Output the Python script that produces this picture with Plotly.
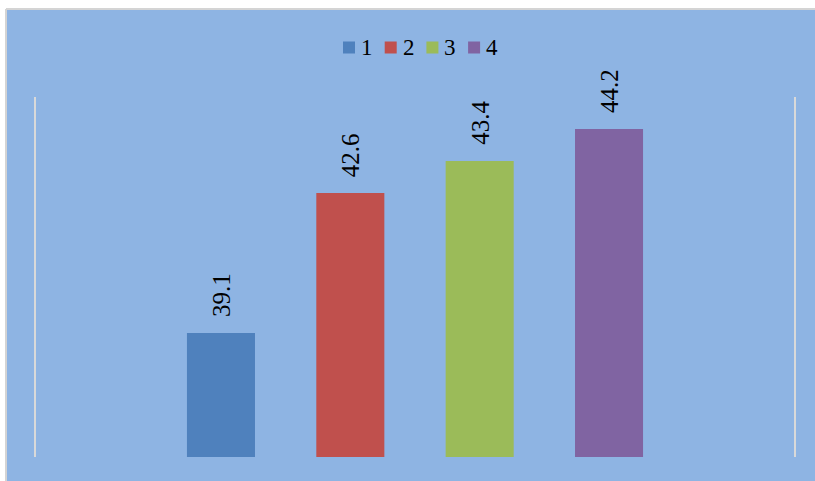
import plotly.graph_objects as go

# Series shown in the chart
series = ["1", "2", "3", "4"]
positions = [1, 2, 3, 4]
values = [39.1, 42.6, 43.4, 44.2]
colors = ["#4F81BD", "#C0504D", "#9BBB59", "#8064A2"]

BG = "#8EB4E3"
EDGE = "#D4D4D4"
SERIF = "Liberation Serif, Times New Roman, serif"

# Plot-area geometry in pixels (used to place the compact legend key)
W, H = 815, 481
ML, MR, MT, MB = 36, 21, 97, 24
PW, PH = W - ML - MR, H - MT - MB


def px_x(px):
    return (px - ML) / PW


def px_y(py):
    return (H - MB - py) / PH


fig = go.Figure()
for name, pos, val, col in zip(series, positions, values, colors):
    fig.add_trace(go.Bar(
        x=[pos], y=[val], name=name,
        marker=dict(color=col, line=dict(width=0)),
        width=0.526, showlegend=False,
    ))
    fig.add_annotation(
        x=pos, y=val, xref="x", yref="y",
        text=f"{val:.1f}", textangle=-90,
        showarrow=False, yanchor="bottom", yshift=14,
        font=dict(family=SERIF, size=25, color="black"),
    )

# Chart-area fill, running off the right and bottom edges
fig.add_shape(
    type="rect", xref="paper", yref="paper",
    x0=px_x(6), x1=px_x(W + 20), y0=px_y(H + 20), y1=px_y(9),
    fillcolor=BG, line=dict(width=0), layer="below",
)
# Light border along the visible top and left edges
fig.add_shape(
    type="line", xref="paper", yref="paper",
    x0=px_x(6), x1=px_x(W + 20), y0=px_y(9), y1=px_y(9),
    line=dict(color=EDGE, width=2), layer="below",
)
fig.add_shape(
    type="line", xref="paper", yref="paper",
    x0=px_x(6), x1=px_x(6), y0=px_y(9), y1=px_y(H + 20),
    line=dict(color=EDGE, width=2), layer="below",
)

# Compact horizontal legend key: coloured square followed by the series name
KEY_LEFT, KEY_PITCH, KEY_SIZE, KEY_MID = 343, 41.7, 12, 47.5
for i, (name, col) in enumerate(zip(series, colors)):
    left = KEY_LEFT + i * KEY_PITCH
    fig.add_shape(
        type="rect", xref="paper", yref="paper",
        x0=px_x(left), x1=px_x(left + KEY_SIZE),
        y0=px_y(KEY_MID + KEY_SIZE / 2), y1=px_y(KEY_MID - KEY_SIZE / 2),
        fillcolor=col, line=dict(width=0),
    )
    fig.add_annotation(
        x=px_x(left + KEY_SIZE + 4), y=px_y(KEY_MID), xref="paper", yref="paper",
        text=name, showarrow=False, xanchor="left", yanchor="middle",
        font=dict(family=SERIF, size=23, color="black"),
    )

fig.update_layout(
    width=W, height=H,
    margin=dict(l=ML, r=MR, t=MT, b=MB),
    paper_bgcolor="white", plot_bgcolor=BG,
    barmode="overlay",
    showlegend=False,
    xaxis=dict(range=[-0.43, 5.43], showgrid=False, zeroline=False,
               showticklabels=False, showline=False, fixedrange=True),
    yaxis=dict(range=[36, 45], showgrid=False, zeroline=False,
               showticklabels=False, showline=True, mirror=True,
               linecolor="#D9D9D9", linewidth=2, fixedrange=True),
)

fig.write_html("out.html")
